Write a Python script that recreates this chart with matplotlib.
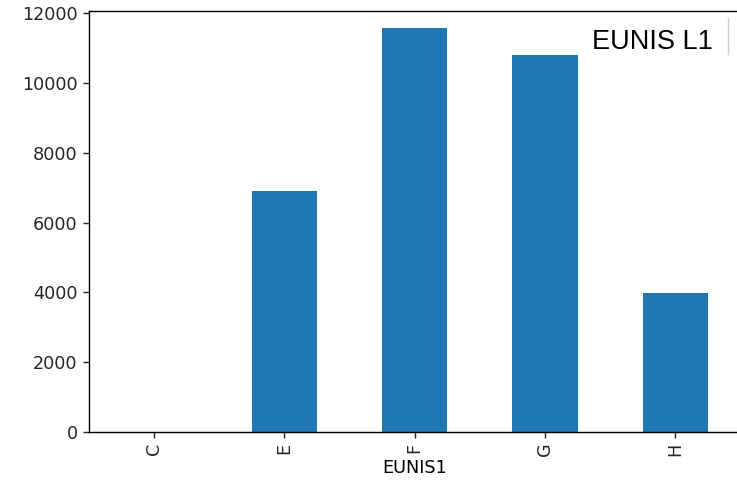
import matplotlib
matplotlib.use('agg')
import matplotlib.pyplot as plt
from matplotlib.lines import Line2D

categories = ['C', 'E', 'F', 'G', 'H']
counts = [3, 6910, 11570, 10800, 3990]

scale = 1.27
plt.rcParams['font.size'] = 10 * scale
plt.rcParams['axes.linewidth'] = 0.8 * scale
plt.rcParams['xtick.major.size'] = 3.5 * scale
plt.rcParams['ytick.major.size'] = 3.5 * scale
plt.rcParams['xtick.major.width'] = 0.8 * scale
plt.rcParams['ytick.major.width'] = 0.8 * scale
plt.rcParams['text.color'] = '#262626'
plt.rcParams['xtick.color'] = '#262626'
plt.rcParams['ytick.color'] = '#262626'

fig = plt.figure(figsize=(7.37, 4.90), dpi=100)
# axes runs slightly past the right edge: the source image is cropped there
ax = fig.add_axes([88.6 / 737, 58.3 / 490, 652 / 737, 421 / 490])
ax.spines['right'].set_visible(False)

x = range(len(categories))
ax.bar(x, counts, width=0.5, color='#1f77b4')
ax.set_xticks(list(x))
ax.set_xticklabels(categories, rotation=90)
ax.set_xlim(-0.5, len(categories) - 0.5)
ax.set_ylim(0, 12075)
ax.set_yticks([0, 2000, 4000, 6000, 8000, 10000, 12000])
ax.set_xlabel('EUNIS1', labelpad=2)

# title box pasted over the top-right corner
fig.text(652 / 737, 1 - 42 / 490, 'EUNIS L1', fontsize=19.5, family='Liberation Sans',
         color='black', ha='center', va='center',
         bbox=dict(facecolor='white', edgecolor='none', pad=6))
fig.add_artist(Line2D([728 / 737, 728 / 737], [1 - 18 / 490, 1 - 54 / 490],
                      color='#cccccc', lw=1))

fig.savefig('out.png', dpi=100)
